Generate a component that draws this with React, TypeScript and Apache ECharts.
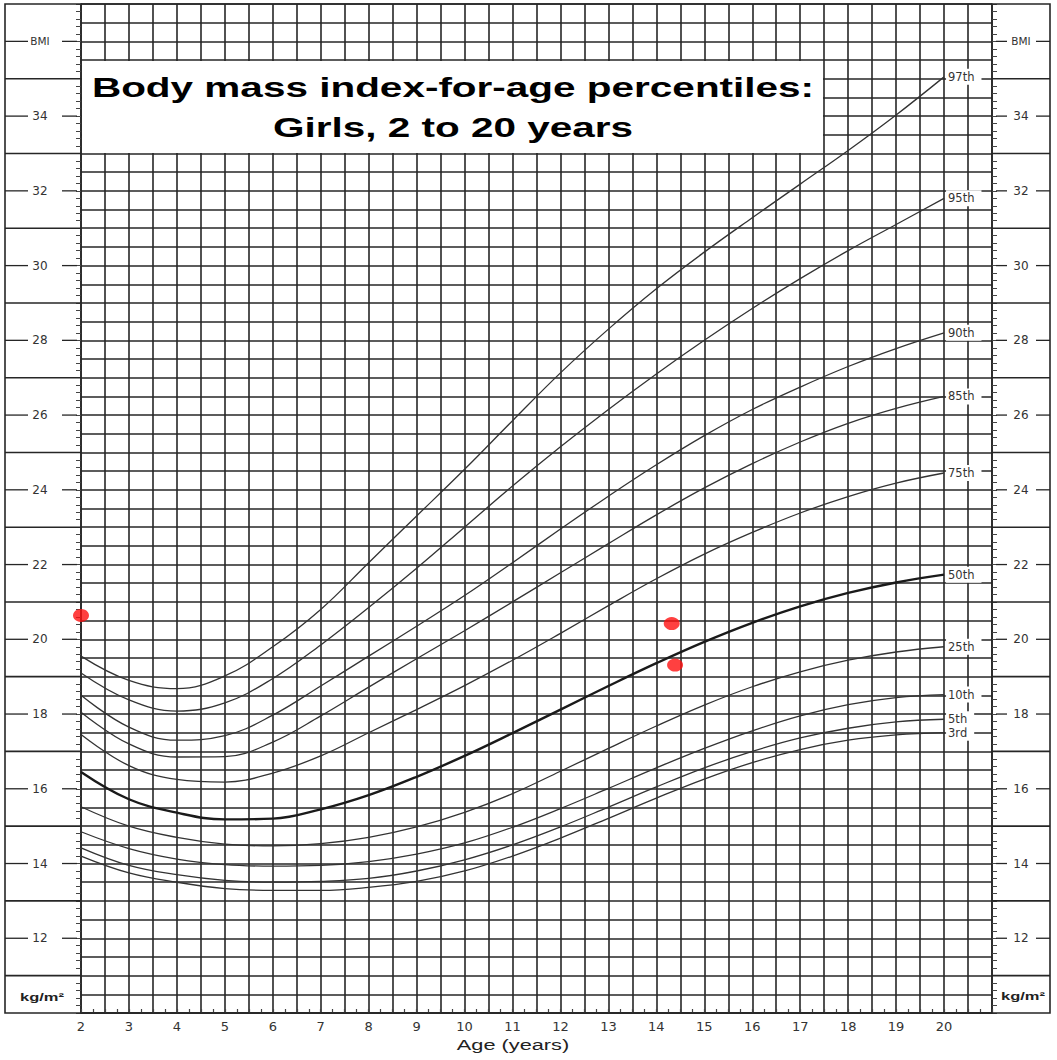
import React, { useEffect, useRef } from "react";
import * as echarts from "echarts";

// ---- data ----
const ages = [2, 3, 4, 5, 6, 7, 8, 9, 10, 11, 12, 13, 14, 15, 16, 17, 18, 19, 20];

const p3 = [14.2, 13.75, 13.5, 13.33, 13.28, 13.28, 13.36, 13.52, 13.8, 14.2, 14.68, 15.21, 15.75, 16.26, 16.7, 17.05, 17.3, 17.44, 17.5];
const p5 = [14.42, 13.95, 13.7, 13.55, 13.5, 13.52, 13.6, 13.8, 14.1, 14.5, 14.98, 15.51, 16.05, 16.56, 17.0, 17.36, 17.62, 17.79, 17.86];
const p10 = [14.85, 14.4, 14.12, 13.97, 13.93, 13.95, 14.05, 14.25, 14.55, 14.97, 15.47, 16.01, 16.56, 17.08, 17.55, 17.95, 18.25, 18.44, 18.52];
const p25 = [15.52, 15.0, 14.7, 14.52, 14.47, 14.53, 14.7, 14.98, 15.37, 15.87, 16.47, 17.08, 17.68, 18.24, 18.73, 19.13, 19.44, 19.66, 19.8];
const p50 = [16.45, 15.72, 15.36, 15.18, 15.2, 15.45, 15.83, 16.32, 16.88, 17.49, 18.12, 18.75, 19.36, 19.93, 20.44, 20.88, 21.24, 21.52, 21.73];
const p75 = [17.45, 16.62, 16.25, 16.18, 16.42, 16.88, 17.5, 18.12, 18.76, 19.44, 20.16, 20.9, 21.62, 22.28, 22.86, 23.38, 23.82, 24.18, 24.45];
const p85 = [18.05, 17.2, 16.85, 16.86, 17.25, 17.95, 18.72, 19.48, 20.23, 21.0, 21.78, 22.56, 23.33, 24.05, 24.7, 25.28, 25.78, 26.18, 26.5];
const p90 = [18.5, 17.65, 17.3, 17.42, 17.97, 18.75, 19.55, 20.35, 21.17, 22.05, 22.95, 23.83, 24.67, 25.45, 26.15, 26.75, 27.3, 27.78, 28.2];
const p95 = [19.1, 18.38, 18.08, 18.3, 18.95, 19.85, 20.85, 21.9, 23.0, 24.1, 25.15, 26.15, 27.1, 28.0, 28.85, 29.65, 30.4, 31.1, 31.8];
const p97 = [19.55, 18.9, 18.68, 19.02, 19.8, 20.8, 22.05, 23.3, 24.55, 25.85, 27.13, 28.3, 29.38, 30.36, 31.28, 32.18, 33.08, 34.03, 35.05];

const percentileNames = ["3rd", "5th", "10th", "25th", "50th", "75th", "85th", "90th", "95th", "97th"];
const percentileValues = [p3, p5, p10, p25, p50, p75, p85, p90, p95, p97];

const patientAges = [2.0, 14.32, 14.39];
const patientBmi = [20.64, 20.42, 19.31];

const ageTickLabels = [2, 3, 4, 5, 6, 7, 8, 9, 10, 11, 12, 13, 14, 15, 16, 17, 18, 19, 20];
const bmiTickLabels = [12, 14, 16, 18, 20, 22, 24, 26, 28, 30, 32, 34];
const bmiUnitTick = 36;
const bmiMarginRules = [11, 13, 15, 17, 19, 21, 23, 25, 27, 29, 31, 33, 35];

const titleLines = ["Body mass index-for-age percentiles:", "Girls, 2 to 20 years"];

export default function App() {
  const ref = useRef<HTMLDivElement>(null);

  useEffect(() => {
    const el = ref.current as HTMLDivElement;
    const chart = echarts.init(el, null, { renderer: "svg" });
    const ink = "#262626";
    const textInk = "#333";
    const font = "DejaVu Sans";

    const lineSeries = percentileNames.map((name, i) => ({
      name,
      type: "line",
      xAxisIndex: 0,
      yAxisIndex: 0,
      data: ages.map((a, j) => [a, percentileValues[i][j]]),
      smooth: 0.4,
      symbol: "none",
      showSymbol: false,
      silent: true,
      z: 3,
      lineStyle: {
        color: name === "50th" ? "#1a1a1a" : "#333",
        width: name === "50th" ? 2.4 : 1.3,
      },
      endLabel: {
        show: true,
        formatter: "{a}",
        distance: 2,
        color: textInk,
        fontFamily: font,
        fontSize: 11.5,
        backgroundColor: "#fff",
        padding: [2, 7, 2, 2],
      },
    }));

    const ruleSeries = {
      type: "custom",
      name: "rules",
      xAxisIndex: 0,
      yAxisIndex: 0,
      silent: true,
      clip: false,
      z: 1,
      data: bmiMarginRules.map((v) => [2, v]),
      renderItem: (params: any, api: any) => {
        const v = api.value(1);
        const p0 = api.coord([2, v]);
        const p1 = api.coord([21, v]);
        const w = api.getWidth();
        const st = { stroke: ink, lineWidth: 1.6 };
        return {
          type: "group",
          children: [
            { type: "line", shape: { x1: 5, y1: p0[1], x2: p0[0], y2: p0[1] }, style: st },
            { type: "line", shape: { x1: p1[0], y1: p1[1], x2: w - 7, y2: p1[1] }, style: st },
          ],
        };
      },
    };

    const dashSeries = {
      type: "custom",
      name: "dashes",
      xAxisIndex: 0,
      yAxisIndex: 0,
      silent: true,
      clip: false,
      z: 1,
      data: bmiTickLabels.concat([bmiUnitTick]).map((v) => [2, v]),
      renderItem: (params: any, api: any) => {
        const v = api.value(1);
        const p0 = api.coord([2, v]);
        const p1 = api.coord([21, v]);
        const w = api.getWidth();
        const st = { stroke: ink, lineWidth: 1.3 };
        return {
          type: "group",
          children: [
            { type: "line", shape: { x1: 5, y1: p0[1], x2: 28, y2: p0[1] }, style: st },
            { type: "line", shape: { x1: p0[0] - 19, y1: p0[1], x2: p0[0] - 4, y2: p0[1] }, style: st },
            { type: "line", shape: { x1: p1[0] + 4, y1: p1[1], x2: p1[0] + 15, y2: p1[1] }, style: st },
            { type: "line", shape: { x1: w - 21, y1: p1[1], x2: w - 7, y2: p1[1] }, style: st },
          ],
        };
      },
    };

    const bmiFormatter = (v: number) => {
      if (bmiTickLabels.indexOf(v) >= 0) return String(v);
      if (Math.abs(v - bmiUnitTick) < 1e-6) return "{s|BMI}";
      return "";
    };

    const yLabelCommon = {
      show: true,
      formatter: bmiFormatter,
      align: "center",
      color: textInk,
      fontFamily: font,
      fontSize: 12,
      rich: { s: { fontSize: 10.5, fontFamily: font, color: textInk } },
    };

    const option: any = {
      animation: false,
      backgroundColor: "#fff",
      grid: { left: 81, right: 65, top: 4, bottom: 47, containLabel: false },
      xAxis: [
        {
          type: "value",
          min: 2,
          max: 21,
          interval: 0.5,
          position: "bottom",
          axisLine: { show: true, onZero: false, lineStyle: { color: ink, width: 1.6 } },
          axisTick: { show: false },
          splitLine: { show: true, lineStyle: { color: ink, width: 1.6 } },
          axisLabel: {
            show: true,
            margin: 7,
            color: textInk,
            fontFamily: font,
            fontSize: 13,
            formatter: (v: number) => (ageTickLabels.indexOf(v) >= 0 ? String(v) : ""),
          },
        },
        {
          type: "value",
          min: 2,
          max: 21,
          interval: 0.25,
          position: "bottom",
          axisLine: { show: false, onZero: false },
          axisTick: { show: true, inside: true, length: 4, lineStyle: { color: "#444", width: 1.2 } },
          splitLine: { show: false },
          axisLabel: { show: false },
        },
      ],
      yAxis: [
        {
          type: "value",
          min: 10,
          max: 37,
          interval: 0.5,
          position: "left",
          axisLine: { show: true, onZero: false, lineStyle: { color: ink, width: 1.6 } },
          axisTick: { show: false },
          splitLine: { show: true, lineStyle: { color: ink, width: 1.6 } },
          axisLabel: { ...yLabelCommon, margin: 41 },
        },
        {
          type: "value",
          min: 10,
          max: 37,
          interval: 0.5,
          position: "right",
          axisLine: { show: true, onZero: false, lineStyle: { color: ink, width: 1.6 } },
          axisTick: { show: false },
          splitLine: { show: false },
          axisLabel: { ...yLabelCommon, margin: 29 },
        },
        {
          type: "value",
          min: 10,
          max: 37,
          interval: 0.2,
          position: "left",
          axisLine: { show: false },
          axisTick: { show: true, length: 5, lineStyle: { color: "#444", width: 1 } },
          splitLine: { show: false },
          axisLabel: { show: false },
        },
        {
          type: "value",
          min: 10,
          max: 37,
          interval: 0.2,
          position: "right",
          axisLine: { show: false },
          axisTick: { show: true, length: 5, lineStyle: { color: "#444", width: 1 } },
          splitLine: { show: false },
          axisLabel: { show: false },
        },
      ],
      series: [
        ruleSeries,
        dashSeries,
        ...lineSeries,
        {
          type: "scatter",
          name: "patient",
          xAxisIndex: 0,
          yAxisIndex: 0,
          data: patientAges.map((a, i) => [a, patientBmi[i]]),
          symbol: "circle",
          symbolSize: [16, 13],
          itemStyle: { color: "#ff1010" },
          clip: false,
          silent: true,
          z: 10,
        },
      ],
      graphic: [
        {
          type: "rect",
          silent: true,
          z: 100,
          shape: { x: 5, y: 4, width: 1045, height: 1009 },
          style: { fill: "none", stroke: ink, lineWidth: 1.6 },
        },
        {
          type: "rect",
          silent: true,
          z: 100,
          shape: { x: 82, y: 61, width: 741, height: 92 },
          style: { fill: "#fff" },
        },
        {
          type: "text",
          silent: true,
          z: 101,
          x: 453,
          y: 88,
          scaleX: 1.5,
          style: {
            text: titleLines[0],
            fontSize: 27,
            fontWeight: "bold",
            fontFamily: "Liberation Sans",
            fill: "#000",
            textAlign: "center",
            textVerticalAlign: "middle",
            align: "center",
            verticalAlign: "middle",
          },
        },
        {
          type: "text",
          silent: true,
          z: 101,
          x: 453,
          y: 128,
          scaleX: 1.5,
          style: {
            text: titleLines[1],
            fontSize: 27,
            fontWeight: "bold",
            fontFamily: "Liberation Sans",
            fill: "#000",
            textAlign: "center",
            textVerticalAlign: "middle",
            align: "center",
            verticalAlign: "middle",
          },
        },
        {
          type: "text",
          silent: true,
          z: 101,
          x: 513,
          y: 1045,
          scaleX: 1.45,
          style: {
            text: "Age (years)",
            fontSize: 15,
            fontFamily: "Liberation Sans",
            fill: "#222",
            textAlign: "center",
            textVerticalAlign: "middle",
            align: "center",
            verticalAlign: "middle",
          },
        },
        {
          type: "text",
          silent: true,
          z: 101,
          x: 42,
          y: 997,
          scaleX: 1.5,
          style: {
            text: "kg/m²",
            fontSize: 11,
            fontWeight: "bold",
            fontFamily: "Liberation Sans",
            fill: "#222",
            textAlign: "center",
            textVerticalAlign: "middle",
            align: "center",
            verticalAlign: "middle",
          },
        },
        {
          type: "text",
          silent: true,
          z: 101,
          x: 1023,
          y: 996,
          scaleX: 1.5,
          style: {
            text: "kg/m²",
            fontSize: 11,
            fontWeight: "bold",
            fontFamily: "Liberation Sans",
            fill: "#222",
            textAlign: "center",
            textVerticalAlign: "middle",
            align: "center",
            verticalAlign: "middle",
          },
        },
      ],
    };

    chart.setOption(option);
    return () => {
      chart.dispose();
    };
  }, []);

  return (
    <div
      ref={ref}
      style={{ position: "fixed", left: 0, top: 0, width: 1057, height: 1060, background: "#fff" }}
    />
  );
}
